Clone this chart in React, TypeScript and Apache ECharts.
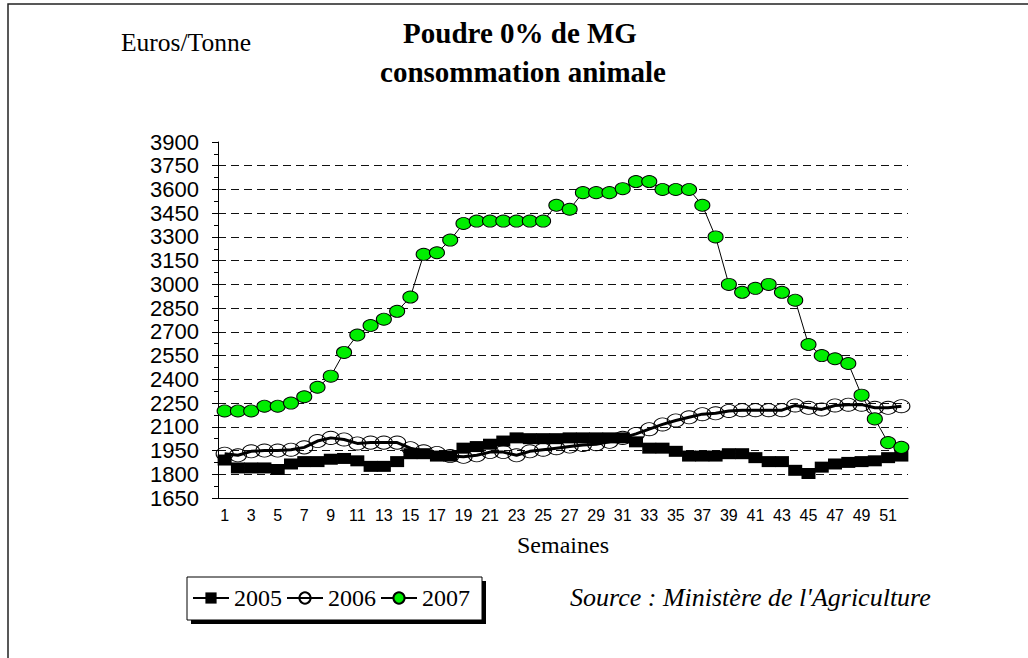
import React, { useEffect, useRef } from "react";
import * as echarts from "echarts";

const weeks = [
  "1","2","3","4","5","6","7","8","9","10","11","12","13","14","15","16","17","18","19","20",
  "21","22","23","24","25","26","27","28","29","30","31","32","33","34","35","36","37","38","39","40",
  "41","42","43","44","45","46","47","48","49","50","51","52",
];

const y2005 = [
  1890, 1840, 1840, 1840, 1830, 1865, 1880, 1880, 1895, 1900,
  1885, 1850, 1850, 1880, 1930, 1930, 1915, 1915, 1965, 1975,
  1990, 2010, 2030, 2025, 2025, 2025, 2030, 2030, 2030, 2030,
  2030, 2005, 1965, 1965, 1945, 1915, 1915, 1915, 1930, 1930,
  1905, 1880, 1880, 1825, 1805, 1845, 1865, 1875, 1880, 1885,
  1905, 1915,
];

const y2006 = [
  1930, 1920, 1945, 1950, 1950, 1955, 1970, 2010, 2030, 2020,
  1995, 2000, 2000, 2000, 1965, 1945, 1935, 1915, 1910, 1920,
  1940, 1940, 1920, 1945, 1955, 1965, 1975, 1985, 1990, 2005,
  2030, 2055, 2085, 2115, 2140, 2160, 2180, 2185, 2200, 2205,
  2205, 2205, 2205, 2235, 2220, 2210, 2235, 2240, 2240, 2220,
  2220, 2230,
];

const y2007 = [
  2200, 2200, 2200, 2230, 2230, 2250, 2290, 2350, 2420, 2570,
  2680, 2740, 2780, 2830, 2920, 3190, 3200, 3280, 3385, 3400,
  3400, 3400, 3400, 3400, 3400, 3500, 3475, 3580, 3580, 3580,
  3605, 3650, 3650, 3600, 3600, 3600, 3500, 3300, 3000, 2950,
  2975, 3000, 2950, 2900, 2620, 2550, 2530, 2500, 2300, 2150,
  2000, 1970,
];

const seriesNames = ["2005", "2006", "2007"];
const yMin = 1650;
const yMax = 3900;
const yStep = 150;

const SERIF = "'Liberation Serif', 'Times New Roman', serif";
const SANS = "'Liberation Sans', Arial, sans-serif";

export default function App() {
  const ref = useRef<HTMLDivElement>(null);

  useEffect(() => {
    document.body.style.margin = "0";
    if (!ref.current) return;
    const chart = echarts.init(ref.current, undefined, { renderer: "svg" });
    const nLines = (yMax - yMin) / yStep + 1;
    const splitColors = Array.from({ length: nLines }, (_, i) =>
      i === 0 || i === nLines - 1 ? "rgba(0,0,0,0)" : "#111"
    );
    chart.setOption({
      animation: false,
      backgroundColor: "#fff",
      grid: { left: 218, right: 120, top: 142, bottom: 160 },
      xAxis: {
        type: "category",
        data: weeks,
        boundaryGap: true,
        axisLine: { lineStyle: { color: "#000", width: 1 } },
        axisTick: { alignWithLabel: true, interval: 0, length: 6, lineStyle: { color: "#000" } },
        axisLabel: { interval: 1, color: "#000", fontFamily: SANS, fontSize: 16, margin: 9 },
        name: "Semaines",
        nameLocation: "middle",
        nameGap: 35,
        nameTextStyle: { fontFamily: SERIF, fontSize: 24, color: "#000" },
        splitLine: { show: false },
      },
      yAxis: {
        type: "value",
        min: yMin,
        max: yMax,
        interval: yStep,
        axisLine: { show: true, lineStyle: { color: "#000", width: 1 } },
        axisTick: { show: true, length: 6, lineStyle: { color: "#000" } },
        minorTick: { show: true, splitNumber: 2, length: 4, lineStyle: { color: "#000" } },
        axisLabel: {
          color: "#000",
          fontFamily: SANS,
          fontSize: 22,
          lineHeight: 22,
          margin: 19,
          showMinLabel: true,
          showMaxLabel: true,
          hideOverlap: false,
          formatter: (v: number) => String(v),
        },
        splitLine: { show: true, lineStyle: { color: splitColors, type: [8, 5], width: 1 } },
      },
      legend: {
        data: seriesNames,
        left: 192,
        top: 586,
        padding: 0,
        itemGap: 4,
        itemWidth: 36,
        itemHeight: 14,
        textStyle: { fontFamily: SERIF, fontSize: 24, color: "#000" },
      },
      graphic: [
        {
          type: "rect",
          shape: { x: 8, y: 4, width: 1040, height: 700 },
          style: { fill: "none", stroke: "#222", lineWidth: 1.5 },
          silent: true,
        },
        {
          type: "rect",
          shape: { x: 191, y: 581, width: 295, height: 43 },
          style: { fill: "#000" },
          z: 1,
        },
        {
          type: "rect",
          shape: { x: 187, y: 577, width: 295, height: 43 },
          style: { fill: "#fff", stroke: "#000", lineWidth: 1 },
          z: 2,
        },
        {
          type: "text",
          x: 186,
          y: 42,
          style: {
            text: "Euros/Tonne",
            font: `25.5px ${SERIF}`,
            fill: "#000",
            align: "center",
            verticalAlign: "middle",
            textAlign: "center",
            textVerticalAlign: "middle",
          },
        },
        {
          type: "text",
          x: 520,
          y: 33,
          style: {
            text: "Poudre 0% de MG",
            font: `bold 29px ${SERIF}`,
            fill: "#000",
            align: "center",
            verticalAlign: "middle",
            textAlign: "center",
            textVerticalAlign: "middle",
          },
        },
        {
          type: "text",
          x: 523,
          y: 72,
          style: {
            text: "consommation animale",
            font: `bold 29px ${SERIF}`,
            fill: "#000",
            align: "center",
            verticalAlign: "middle",
            textAlign: "center",
            textVerticalAlign: "middle",
          },
        },
        {
          type: "text",
          x: 570,
          y: 597,
          style: {
            text: "Source : Ministère de l'Agriculture",
            font: `italic 26px ${SERIF}`,
            fill: "#000",
            align: "left",
            verticalAlign: "middle",
            textAlign: "left",
            textVerticalAlign: "middle",
          },
        },
      ],
      series: [
        {
          name: seriesNames[0],
          type: "line",
          data: y2005,
          symbol: "rect",
          symbolSize: [14, 11],
          showAllSymbol: true,
          lineStyle: { color: "#000", width: 1 },
          itemStyle: { color: "#000", borderColor: "#000", borderWidth: 0 },
          z: 2,
        },
        {
          name: seriesNames[1],
          type: "line",
          data: y2006,
          symbol: "circle",
          symbolSize: [17, 13],
          showAllSymbol: true,
          lineStyle: { color: "#000", width: 3 },
          itemStyle: { color: "rgba(255,255,255,0)", borderColor: "#000", borderWidth: 1 },
          z: 3,
        },
        {
          name: seriesNames[2],
          type: "line",
          data: y2007,
          symbol: "circle",
          symbolSize: [15, 12],
          showAllSymbol: true,
          lineStyle: { color: "#000", width: 1 },
          itemStyle: { color: "#00ee00", borderColor: "#000", borderWidth: 1 },
          z: 4,
        },
      ],
    });
    return () => chart.dispose();
  }, []);

  return <div ref={ref} style={{ width: 1028, height: 658 }} />;
}
